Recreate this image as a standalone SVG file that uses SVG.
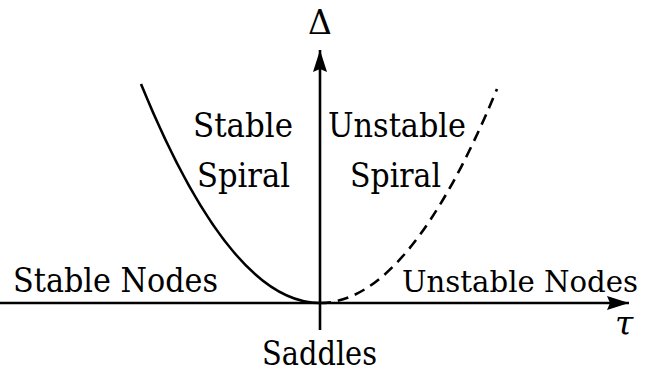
<svg xmlns="http://www.w3.org/2000/svg" width="645" height="373" viewBox="0 0 645 373">
<style>
.t{font-family:'DejaVu Serif','Noto Serif','Liberation Serif',serif;font-size:33px;fill:#000}
.ax{stroke:#000;stroke-width:2.6;fill:none}
.cv{stroke:#000;stroke-width:2.6;fill:none}
.dash{stroke-dasharray:11 7}
</style>
<defs>
<marker id="ah" markerUnits="userSpaceOnUse" markerWidth="24" markerHeight="16" refX="22" refY="7" orient="auto">
<path d="M0,0 L22,7 L0,14 L3,7 Z" fill="#000"/>
</marker>
</defs>
<g id="connectors">
<line class="ax" x1="0" y1="303" x2="629" y2="303" marker-end="url(#ah)"/>
<line class="ax" x1="320" y1="330" x2="320" y2="50" marker-end="url(#ah)"/>
<path class="cv" d="M320,303 Q230.5,303 141,84"/>
<path class="cv dash" d="M320,303 Q408.5,303 497,89"/>
</g>
<g id="axis-labels" class="t">
<text x="320" y="34" text-anchor="middle" style="font-size:33px">Δ</text>
<text x="615" y="335" style="font-size:33px;font-style:italic">τ</text>
</g>
<g id="stable-spiral" class="t">
<text x="193" y="137" textLength="100" lengthAdjust="spacingAndGlyphs">Stable</text>
<text x="197" y="187" textLength="93" lengthAdjust="spacingAndGlyphs">Spiral</text>
</g>
<g id="unstable-spiral" class="t">
<text x="328" y="137" textLength="138" lengthAdjust="spacingAndGlyphs">Unstable</text>
<text x="350" y="187" textLength="91" lengthAdjust="spacingAndGlyphs">Spiral</text>
</g>
<g id="stable-nodes" class="t">
<text x="13" y="292" textLength="205" lengthAdjust="spacingAndGlyphs">Stable Nodes</text>
</g>
<g id="unstable-nodes" class="t">
<text x="402" y="292" textLength="236" lengthAdjust="spacingAndGlyphs" style="font-size:30px">Unstable Nodes</text>
</g>
<g id="saddles" class="t">
<text x="262" y="365" textLength="115" lengthAdjust="spacingAndGlyphs">Saddles</text>
</g>
</svg>
